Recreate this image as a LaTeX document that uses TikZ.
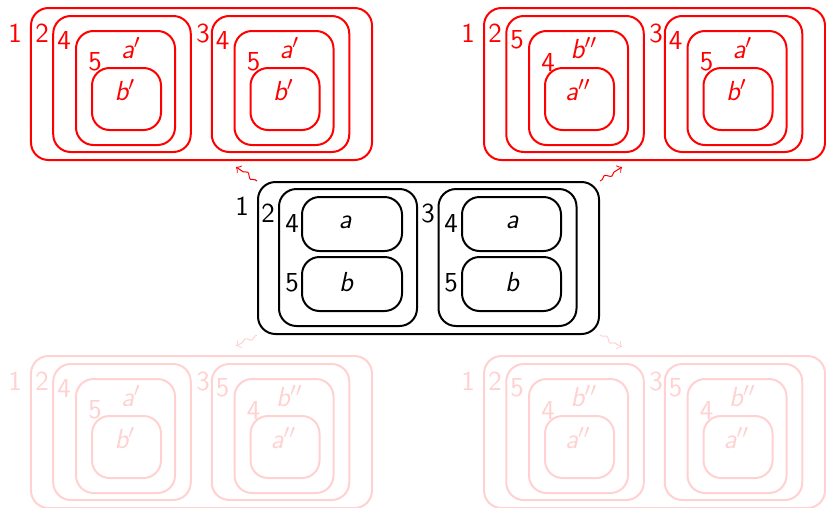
\documentclass[tikz,border=0pt]{standalone}
\usetikzlibrary{decorations.pathmorphing}
\colorlet{Faded}{red!18}

\tikzset{
  box/.style={draw, line width=0.8pt, rounded corners=7pt, inner sep=0pt},
  num/.style={font=\sffamily\fontsize{11}{13}\selectfont, inner sep=0pt},
  var/.style={font=\sffamily\itshape\fontsize{11}{13}\selectfont, inner sep=0pt},
  morph/.style={->, line width=0.4pt, decorate,
    decoration={snake, amplitude=0.9pt, segment length=5pt, pre length=1pt, post length=2.5pt}}
}

% one nested half: #1 name, #2 centre, #3/#4 outer number and letter, #5/#6 inner number and letter
\newcommand{\nestbox}[6]{
  \begin{scope}[shift={#2}]
    \node[box, minimum width=55pt, minimum height=54.4pt] (#1) at (0,0) {};
    \node[box, minimum width=39.6pt, minimum height=45.6pt] (#1o) at (3.5,4) {};
    \node[box, minimum width=27.6pt, minimum height=24.8pt] (#1i) at (4.5,15) {};
    \node[num] (#1on) at (-58,-44) {#3};
    \node[var] (#1ov) at (9,-36) {#4};
    \node[num] (#1in) at (-27,-22) {#5};
    \node[var] (#1iv) at (3,6) {#6};
  \end{scope}
}
\newcommand{\primed}[2]{\nestbox{#1}{#2}{4}{a$'$}{5}{b$'$}}
\newcommand{\swapped}[2]{\nestbox{#1}{#2}{5}{b$''$}{4}{a$''$}}

% a whole world: #1 name, #2 top left corner, #3 colour, #4/#5 left and right halves
\newcommand{\world}[5]{
  \begin{scope}[shift={#2}, color=#3]
    \node[box, minimum width=136.4pt, minimum height=60.8pt] (#1) at (170.5,76) {};
    \node[num] (#1n1) at (-16,25) {1};
    \node[num] (#1n2) at (11,25) {2};
    \node[num] (#1n3) at (172,25) {3};
    #4{#1l}{(91,76)}
    #5{#1r}{(249.5,76)}
  \end{scope}
}

\begin{document}
\begin{tikzpicture}[x=0.4pt, y=-0.4pt]
  \useasboundingbox (0,0) rectangle (826,507);

  % starting state
  \node[box, minimum width=136.4pt, minimum height=60.8pt] (start) at (428.5,258) {};
  \node[box, minimum width=55.2pt, minimum height=54.8pt] (left) at (348,257.5) {};
  \node[box, minimum width=55.2pt, minimum height=54.8pt] (right) at (507.5,257.5) {};
  \node[box, minimum width=40pt, minimum height=21.6pt] (la) at (352,224) {};
  \node[box, minimum width=40pt, minimum height=21.6pt] (lb) at (352,284) {};
  \node[box, minimum width=39.6pt, minimum height=21.6pt] (ra) at (511.5,224) {};
  \node[box, minimum width=39.6pt, minimum height=21.6pt] (rb) at (511.5,284) {};
  \node[var] (lav) at (345,222) {a};
  \node[var] (lbv) at (346,282) {b};
  \node[var] (rav) at (512,222) {a};
  \node[var] (rbv) at (512,282) {b};
  \node[num] (n1) at (242,206) {1};
  \node[num] (n2) at (268,213) {2};
  \node[num] (n3) at (428,213) {3};
  \node[num] (nla) at (292,223) {4};
  \node[num] (nlb) at (292,283) {5};
  \node[num] (nra) at (451,223) {4};
  \node[num] (nrb) at (451,283) {5};

  % the four successors
  \world{tl}{(31,8)}{red}{\primed}{\primed}
  \world{tr}{(484,8)}{red}{\swapped}{\primed}
  \world{bl}{(31,356)}{Faded}{\primed}{\swapped}
  \world{br}{(484,356)}{Faded}{\swapped}{\swapped}

  % transitions
  \draw[morph, red] (start.north west) -- ([shift={(34.5,6)}]tl.south);
  \draw[morph, red] (start.north east) -- ([shift={(-32.5,6)}]tr.south);
  \draw[morph, Faded] (start.south west) -- ([shift={(34.5,-9)}]bl.north);
  \draw[morph, Faded] (start.south east) -- ([shift={(-32.5,-8)}]br.north);
\end{tikzpicture}
\end{document}
